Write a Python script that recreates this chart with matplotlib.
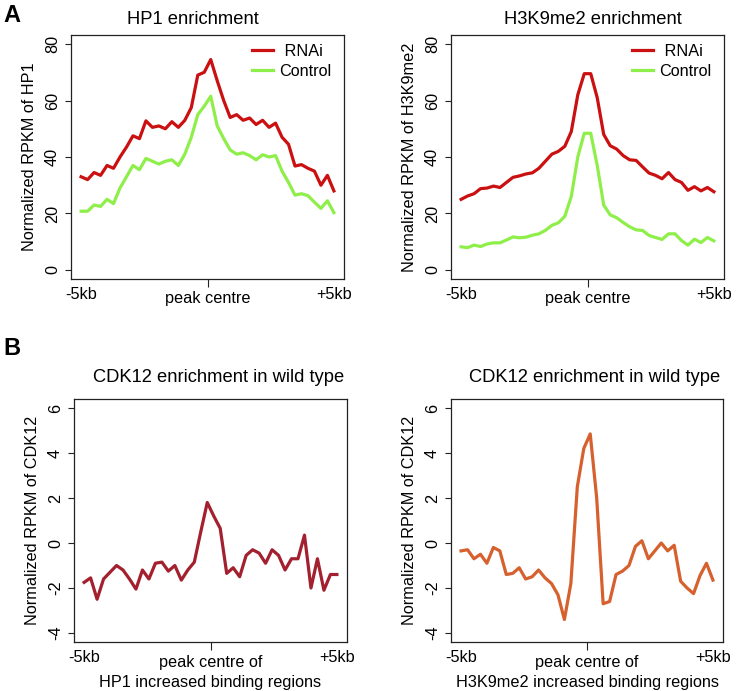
import matplotlib
matplotlib.use("Agg")
import matplotlib.pyplot as plt
import numpy as np

plt.rcParams["font.family"] = ["Liberation Sans", "DejaVu Sans"]

# profile values (40 bins from -5kb to +5kb)
hp1_rnai = [33, 32, 34.5, 33.5, 37, 36, 40, 43.5, 47.5, 46.5,
            52.8, 50.5, 51, 50, 52.5, 50.5, 53, 57.5, 69, 70,
            74.5, 67, 60, 54, 55, 53, 53.8, 51.5, 53, 50.5,
            52, 47, 44.5, 36.8, 37.3, 36, 35, 30, 33.5, 28]
hp1_ctrl = [20.8, 20.8, 23, 22.5, 25, 23.5, 29, 33, 37, 35.5,
            39.5, 38.5, 37.5, 38.5, 39, 37, 41, 47, 55, 58,
            61.5, 51, 46.5, 42.5, 41, 41.5, 40.5, 39, 40.8, 40,
            40.5, 35, 31, 26.5, 27, 26.3, 24, 21.8, 24.5, 20.3]
h3k9_rnai = [25, 26.2, 27, 28.8, 29, 29.7, 29.2, 31, 32.8, 33.3,
             34, 34.4, 36, 38.5, 41, 42, 43.8, 49, 62, 69.5,
             69.5, 61, 48, 44, 42.8, 40.5, 39, 38.8, 36.5, 34.3,
             33.5, 32.3, 34.5, 32, 31, 28.2, 29.5, 28, 29.2, 27.7]
h3k9_ctrl = [8.2, 7.9, 8.8, 8.3, 9.2, 9.6, 9.6, 10.6, 11.7, 11.4,
             11.6, 12.3, 12.8, 14, 15.8, 16.7, 19, 26, 40, 48.4,
             48.4, 37, 23, 19.5, 18.5, 16.8, 15.3, 14.2, 14, 12.2,
             11.5, 10.8, 12.8, 12.8, 10.4, 8.8, 10.9, 9.7, 11.5, 10.3]
cdk12_hp1 = [-1.75, -1.55, -2.5, -1.6, -1.3, -1.0, -1.2, -1.6, -2.05, -1.2,
             -1.6, -0.9, -0.85, -1.25, -1.0, -1.65, -1.2, -0.85, 0.5, 1.8,
             1.2, 0.65, -1.35, -1.1, -1.5, -0.55, -0.3, -0.45, -0.9, -0.3,
             -0.55, -1.2, -0.7, -0.7, 0.35, -2.0, -0.7, -2.1, -1.4, -1.4]
cdk12_h3k9 = [-0.35, -0.3, -0.7, -0.5, -0.9, -0.2, -0.35, -1.4, -1.35, -1.1,
              -1.6, -1.5, -1.2, -1.55, -1.8, -2.3, -3.4, -1.8, 2.5, 4.2,
              4.85, 2.0, -2.7, -2.6, -1.4, -1.25, -1.0, -0.15, 0.1, -0.7,
              -0.35, 0.0, -0.35, -0.1, -1.7, -2.0, -2.25, -1.45, -0.9, -1.65]
pos = np.linspace(-5, 5, len(hp1_rnai))

red = "#CA1010"
green = "#8FEF4A"
W, H = 740, 691
fig = plt.figure(figsize=(7.4, 6.91), dpi=100)


def px_axes(l, t, r, b):
    return fig.add_axes([l / W, 1 - b / H, (r - l) / W, (b - t) / H])


def style(ax, yticks, ylim, ylabel, centre, xlabel=None):
    ax.set_xlim(-5.4, 5.4)
    ax.set_ylim(*ylim)
    ax.set_yticks(yticks)
    ax.set_yticklabels([str(v) for v in yticks], rotation=90, va="center", fontsize=11.7)
    ax.set_xticks([0])
    ax.set_xticklabels([centre], fontsize=11.7)
    ax.set_xticks([-5, 5], minor=True)
    ax.set_xticklabels(["-5kb", "+5kb"], minor=True, fontsize=11.7)
    ax.tick_params(axis="x", which="minor", length=0, pad=6)
    ax.tick_params(axis="x", which="major", length=6, width=0.8, pad=3, color="#222222")
    ax.tick_params(axis="y", length=4, width=0.8, pad=4, color="#222222")
    for s in ax.spines.values():
        s.set_linewidth(0.9)
        s.set_color("#222222")
    ax.set_ylabel(ylabel, fontsize=11.7, labelpad=6)
    if xlabel:
        ax.set_xlabel(xlabel, fontsize=11.7, labelpad=4)


def legend(ax):
    ax.legend(loc="upper left", bbox_to_anchor=(0.663, 0.963), frameon=False,
              fontsize=11.7, handlelength=1.3, handletextpad=0.4,
              labelspacing=0.28, borderpad=0, borderaxespad=0)


ax1 = px_axes(71, 35, 344, 279)
ax1.plot(pos, hp1_rnai, color=red, lw=2.3, label=" RNAi")
ax1.plot(pos, hp1_ctrl, color=green, lw=2.3, label="Control")
style(ax1, [0, 20, 40, 60, 80], (-3.2, 83.2), "Normalized RPKM of HP1", "peak centre")
legend(ax1)

ax2 = px_axes(451, 35, 724, 279)
ax2.plot(pos, h3k9_rnai, color=red, lw=2.3, label=" RNAi")
ax2.plot(pos, h3k9_ctrl, color=green, lw=2.3, label="Control")
style(ax2, [0, 20, 40, 60, 80], (-3.2, 83.2), "Normalized RPKM of H3K9me2", "peak centre")
legend(ax2)

ax3 = px_axes(74, 399, 347, 642)
ax3.plot(pos, cdk12_hp1, color="#A3202E", lw=2.3)
style(ax3, [-4, -2, 0, 2, 4, 6], (-4.4, 6.4), "Normalized RPKM of CDK12", "peak centre of",
      "HP1 increased binding regions")

ax4 = px_axes(451, 399, 723, 642)
ax4.plot(pos, cdk12_h3k9, color="#D6602E", lw=2.3)
style(ax4, [-4, -2, 0, 2, 4, 6], (-4.4, 6.4), "Normalized RPKM of CDK12", "peak centre of",
      "H3K9me2 increased binding regions")

fig.text(193 / W, 1 - 24 / H, "HP1 enrichment", ha="center", va="baseline", fontsize=13.2)
fig.text(593 / W, 1 - 24 / H, "H3K9me2 enrichment", ha="center", va="baseline", fontsize=13.2)
fig.text(219 / W, 1 - 382 / H, "CDK12 enrichment in wild type", ha="center", va="baseline", fontsize=13.2)
fig.text(595 / W, 1 - 382 / H, "CDK12 enrichment in wild type", ha="center", va="baseline", fontsize=13.2)
fig.text(3 / W, 1 - 22 / H, "A", ha="left", va="baseline", fontsize=17, fontweight="bold")
fig.text(3 / W, 1 - 355 / H, "B", ha="left", va="baseline", fontsize=17, fontweight="bold")

fig.savefig("out.png", dpi=100)
